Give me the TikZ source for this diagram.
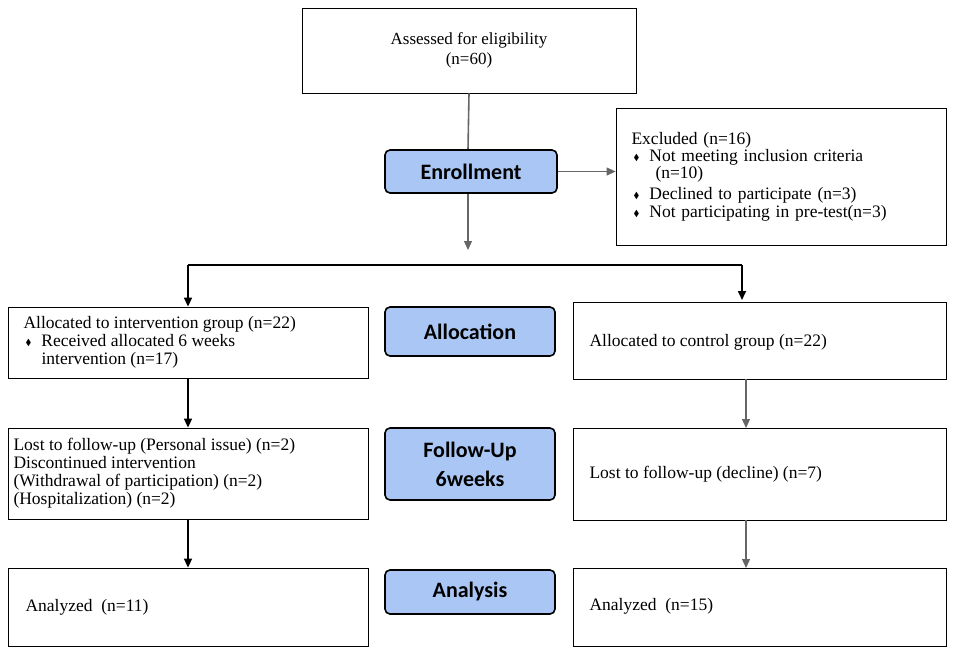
\documentclass[tikz,border=0pt]{standalone}
\usepackage{amssymb}
\usepackage{fontspec}
\setmainfont{Liberation Serif}
\newfontfamily\lab{Carlito}
\usetikzlibrary{arrows.meta}
\definecolor{lb}{HTML}{A9C6F4}
\newcommand{\dia}{\raisebox{1pt}{$\scriptscriptstyle\blacklozenge$}}
\begin{document}
\begin{tikzpicture}[x=1pt,y=-1pt,
 box/.style={draw,thick,rectangle,inner sep=0pt},
 lbl/.style={draw,line width=1.6pt,rounded corners=5pt,fill=lb,inner sep=0pt,font=\lab\bfseries\fontsize{22}{24}\selectfont},
 t/.style={font=\fontsize{17.5}{21}\selectfont,align=left,anchor=west},
 arr/.style={-{Triangle[width=8pt,length=9pt]},line width=1.6pt},
 arrg/.style={-{Triangle[width=8pt,length=9pt]},line width=1.2pt,draw=black!60}]
\useasboundingbox (0,0) rectangle (953,664);
\node[box,minimum width=334pt,minimum height=85pt,align=center,font=\fontsize{17}{20}\selectfont] (top) at (469,50.5) {Assessed for eligibility\\(n=60)};
\coordinate (e1) at (468,250);
\draw[line width=1.6pt,draw=black!60] (top.south) -- (468,150);
\draw[arrg] (468,193) -- (e1);
\node[lbl,minimum width=172pt,minimum height=43pt] (enr) at (471,171.5) {Enrollment};
\node[box,minimum width=330pt,minimum height=137pt] (exc) at (781,176.5) {};
\draw[arrg] (enr.east) -- (enr.east -| exc.west);
\node[t,text width=310pt] (exct) at (628,177) {Excluded (n=16)\\[-4pt]
\hspace*{2pt}\dia\hspace{10pt}Not meeting inclusion criteria\\[-4pt]
\hspace*{24pt}(n=10)\\[0pt]
\hspace*{2pt}\dia\hspace{10pt}Declined to participate (n=3)\\[-3pt]
\hspace*{2pt}\dia\hspace{10pt}Not participating in pre-test(n=3)};
% allocation
\node[box,minimum width=360pt,minimum height=71pt] (al) at (188,342.5) {};
\node[lbl,minimum width=170pt,minimum height=49pt] (all) at (470,331.5) {Allocation};
\node[box,minimum width=373pt,minimum height=77pt] (ar) at (759.5,340.5) {};
\node[t] at (20,342) {Allocated to intervention group (n=22)\\[-3pt]
\hspace*{2pt}\dia\hspace{10pt}Received allocated 6 weeks\\[-3pt]
\hspace*{18pt}intervention (n=17)};
\node[t] at (586,342) {Allocated to control group (n=22)};
\coordinate (h1) at (188,265); \coordinate (h2) at (742,265);
\draw[line width=1.6pt] (h1) -- (h2);
\draw[arr] (h1) -- (al.north);
\draw[arr] (h2) -- (742,300);
% follow-up
\node[box,minimum width=360pt,minimum height=91pt] (fl) at (188,473.5) {};
\node[lbl,minimum width=170pt,minimum height=72pt,align=center,font=\lab\bfseries\fontsize{22}{29}\selectfont] (fll) at (470,464) {Follow-Up\\6weeks};
\node[box,minimum width=373pt,minimum height=92pt] (fr) at (759.5,474) {};
\node[t] at (10,473) {Lost to follow-up (Personal issue) (n=2)\\[-3pt]
Discontinued intervention\\[-3pt](Withdrawal of participation) (n=2)\\[-3pt](Hospitalization) (n=2)};
\node[t] at (586,474) {Lost to follow-up (decline) (n=7)};
\draw[arr] (al.south) -- (fl.north);
\draw[arrg] (746,379) -- (746,428);
% analysis
\node[box,minimum width=360pt,minimum height=78pt] (nl) at (188,607) {};
\node[lbl,minimum width=170pt,minimum height=44pt] (nll) at (470,592) {Analysis};
\node[box,minimum width=373pt,minimum height=78pt] (nr) at (759.5,607) {};
\node[t] at (22,607) {Analyzed\ \ (n=11)};
\node[t] at (586,606) {Analyzed\ \ (n=15)};
\draw[arr] (fl.south) -- (nl.north);
\draw[arrg] (746,520) -- (746,568);
\end{tikzpicture}
\end{document}
